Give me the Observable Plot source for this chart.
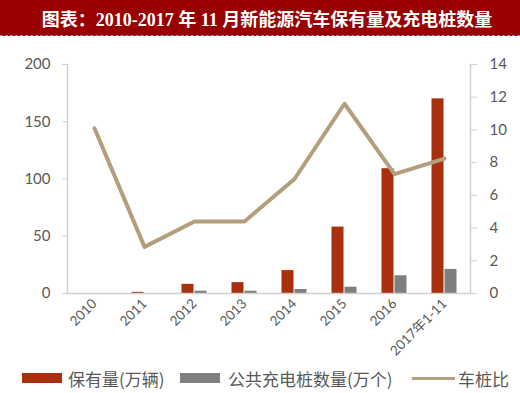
<!DOCTYPE html>
<html><head><meta charset="utf-8">
<script src="https://cdn.jsdelivr.net/npm/d3@7"></script>
<script src="https://cdn.jsdelivr.net/npm/@observablehq/plot@0.6"></script>
<style>
html,body{margin:0;padding:0;background:#fff;}
body{width:520px;height:393px;overflow:hidden;font-family:Lato,"Noto Sans CJK SC",sans-serif;}
#title{height:35px;background:#990000;color:#fff;font:bold 18px "Liberation Serif","Noto Sans CJK SC",serif;display:flex;align-items:center;justify-content:center;border-bottom:1px dashed #8a93c8;padding-left:14px;}
#chart svg{display:block;overflow:visible;}
#legend{position:relative;height:32px;font:17px "Noto Sans CJK SC",sans-serif;color:#595959;}
#legend .it{position:absolute;top:2px;height:30px;display:flex;align-items:center;white-space:nowrap;}
.sw{display:inline-block;width:40px;height:10px;margin-right:6px;}
.ln{display:inline-block;width:43px;height:3px;margin-right:3px;}
</style></head>
<body>
<div id="title">图表：2010-2017 年 11 月新能源汽车保有量及充电桩数量</div>
<div id="chart"></div>
<div id="legend"></div>
<script>
const years = ["2010","2011","2012","2013","2014","2015","2016","2017年1-11"];
const evStock = [0, 1, 8, 9.5, 20, 58, 109, 170];          // 保有量(万辆)
const publicPiles = [0, 0, 2, 2, 3.5, 5.5, 15.5, 21];      // 公共充电桩数量(万个)
const ratio = [10.1, 2.85, 4.4, 4.4, 7.0, 11.6, 7.3, 8.25]; // 车桩比
const leftTicks = [0, 50, 100, 150, 200];
const rightTicks = [0, 2, 4, 6, 8, 10, 12, 14];
const seriesNames = ["保有量(万辆)", "公共充电桩数量(万个)", "车桩比"];
const colors = ["#A8300E", "#7F7F7F", "#B39F7D"];

const rows = years.map((y, i) => ({year: y, ev: evStock[i], piles: publicPiles[i], ratio: ratio[i]}));
const k = 200 / 14;
const axisColor = "#D0D0D0";

const chart = Plot.plot({
  width: 520, height: 325,
  marginLeft: 67, marginRight: 50, marginTop: 28, marginBottom: 68,
  style: {fontFamily: 'Lato,"Noto Sans CJK SC",sans-serif', fontSize: "15px", color: "#595959", background: "#fff", overflow: "visible"},
  x: {domain: years, paddingInner: 0.76, paddingOuter: 0.38, label: null},
  y: {domain: [0, 200], label: null},
  marks: [
    Plot.barY(rows, {x: "year", y: "ev", fill: colors[0], dx: -6.5}),
    Plot.barY(rows, {x: "year", y: "piles", fill: colors[1], dx: 6.5}),
    Plot.ruleY([0], {stroke: axisColor, strokeWidth: 1.5}),
    Plot.frame({anchor: "left", stroke: axisColor, strokeWidth: 1.5}),
    Plot.frame({anchor: "right", stroke: axisColor, strokeWidth: 1.5}),
    Plot.line(rows, {x: "year", y: d => d.ratio * k, stroke: colors[2], strokeWidth: 4}),
    Plot.axisY({anchor: "left", ticks: leftTicks, tickSize: 5, tickPadding: 12, stroke: axisColor, fill: "#595959", fontSize: 15, label: null}),
    Plot.axisY({anchor: "right", ticks: rightTicks.map(v => v * k), tickFormat: d => String(Math.round(d / k)), tickSize: 6, tickPadding: 13, stroke: axisColor, fill: "#595959", fontSize: 15, label: null}),
    Plot.axisX({tickRotate: -45, tickSize: 0, tickPadding: 8, fontSize: 13.5, fill: "#595959", label: null})
  ]
});
document.getElementById("chart").appendChild(chart);

const legend = document.getElementById("legend");
const lefts = [22, 180, 412];
seriesNames.forEach((name, i) => {
  const it = document.createElement("div");
  it.className = "it";
  it.style.left = lefts[i] + "px";
  const sw = document.createElement("span");
  sw.className = i === 2 ? "ln" : "sw";
  sw.style.background = colors[i];
  if (i === 1) sw.style.marginRight = "8px";
  it.appendChild(sw);
  it.appendChild(document.createTextNode(name));
  legend.appendChild(it);
});
</script>
</body></html>
